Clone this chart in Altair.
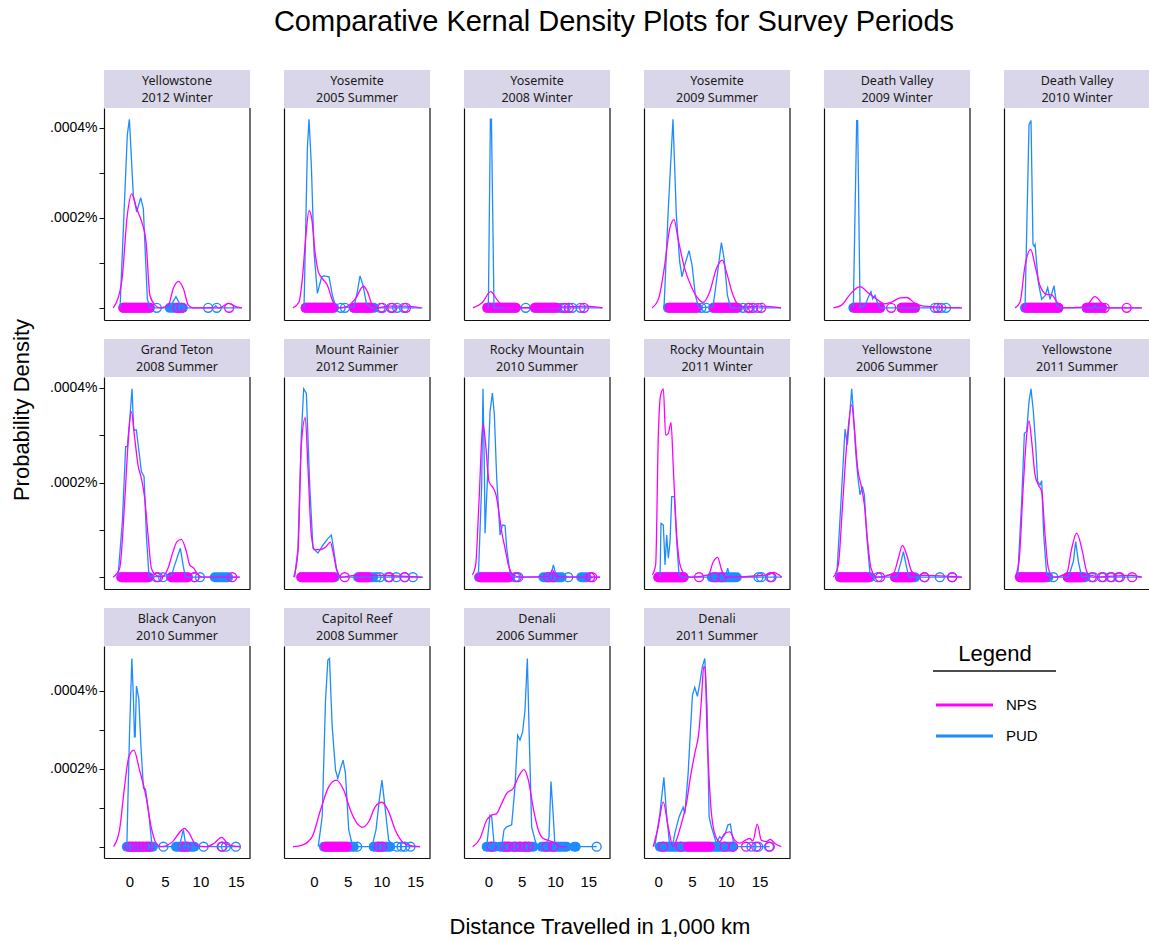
import altair as alt
import pandas as pd

# ---------------- data ----------------
SERIES = ["NPS", "PUD"]
SERIES_COLORS = ["#FF00FF", "#1E8CFF"]
XTICKS = [0, 5, 10, 15]
YTICKS = [0, 1, 2, 3, 4]          # in units of .0001%
YLABELS = {2: ".0002%", 4: ".0004%"}

PARKS = ["Yellowstone", "Yosemite", "Yosemite", "Yosemite", "Death Valley", "Death Valley",
         "Grand Teton", "Mount Rainier", "Rocky Mountain", "Rocky Mountain", "Yellowstone", "Yellowstone",
         "Black Canyon", "Capitol Reef", "Denali", "Denali"]
PERIODS = ["2012 Winter", "2005 Summer", "2008 Winter", "2009 Summer", "2009 Winter", "2010 Winter",
           "2008 Summer", "2012 Summer", "2010 Summer", "2011 Winter", "2006 Summer", "2011 Summer",
           "2010 Summer", "2008 Summer", "2006 Summer", "2011 Summer"]

# density curves (x in 1,000 km, y in .0001%)
NPS_01 = [(-2.44,0),(-1.22,0.58),(-0.4,2.06),(0.24,2.53),(0.97,2.2),(1.7,1.91),(2.33,1.47),(2.9,0.28),(3.65,0.06),(4.4,0),(5.6,0.06),(6.3,0.43),(7.05,0.59),(7.78,0.43),(8.5,0.06),(9.2,0),(13.1,0),(14.35,0.1),(15.57,0.02),(16.3,0)]
PUD_01 = [(-1.46,0),(-0.4,3.84),(-0.1,4.19),(0.48,2.5),(0.97,2.13),(1.56,2.45),(1.94,2.2),(2.52,0.2),(2.9,0),(5.8,0),(6.32,0.15),(6.7,0.25),(7.2,0.1),(7.6,0),(12.2,0),(12.5,0.05),(12.8,0),(16.3,0)]
NPS_02 = [(-2.49,0),(-1.61,0.13),(-1.12,0.65),(-0.64,1.54),(-0.15,2.16),(0.24,1.99),(0.73,1.24),(1.21,0.8),(1.8,0.65),(2.53,0.5),(3.26,0.17),(3.99,0),(5.2,0.02),(6.66,0.21),(7.78,0.48),(8.37,0.36),(9.1,0.06),(9.83,0),(11.5,0.04),(12.5,0.04),(13.96,0.04),(16.15,0)]
PUD_02 = [(-0.88,0),(-0.39,3.54),(-0.15,4.19),(0.19,3.17),(0.58,1.24),(1.07,0.32),(1.7,0.69),(2.04,0.71),(2.77,0.69),(3.26,0.28),(3.74,0.02),(4.47,0),(6.42,0.02),(6.9,0.36),(7.29,0.71),(7.73,0.5),(8.22,0.1),(8.85,0),(16.4,0)]
NPS_03 = [(-2.49,0),(-1.12,0.12),(0.09,0.36),(1.07,0.17),(2.04,0.02),(3.26,0),(10.07,0.02),(14.0,0.04),(16.4,0)]
PUD_03 = [(-0.25,0),(0.05,4.19),(0.2,4.19),(0.58,0),(16.4,0)]
NPS_04 = [(-2.63,0),(-1.66,0.21),(-0.78,0.95),(-0.05,1.76),(0.58,1.96),(1.16,1.54),(2.14,0.87),(3.11,0.47),(4.08,0.21),(4.81,0.12),(5.79,0.36),(6.76,0.87),(7.64,1.06),(8.22,0.8),(9.19,0.28),(10.17,0.04),(11.4,0.02),(12.85,0.04),(16.2,0)]
PUD_04 = [(-0.88,0),(-0.3,2.06),(0.43,4.19),(0.92,2.06),(1.41,1.02),(1.75,0.69),(2.14,0.95),(2.77,1.27),(3.21,0.95),(3.69,0.28),(4.18,0),(6.27,0.02),(6.76,0.58),(7.49,1.45),(7.88,1.1),(8.37,0.28),(8.85,0),(16.2,0)]
NPS_05 = [(-2.44,0),(-1.22,0.06),(0,0.3),(1.46,0.47),(2.67,0.33),(3.89,0.19),(5.1,0.09),(6.08,0.13),(7.3,0.22),(8.27,0.23),(9.48,0.1),(10.7,0.04),(16.3,0)]
PUD_05 = [(0.48,0),(0.97,4.16),(1.11,4.16),(1.46,0),(2.2,0.06),(2.67,0.24),(3.06,0.36),(3.3,0.2),(3.65,0.28),(3.9,0.15),(4.38,0),(16.3,0)]
NPS_06 = [(-2.19,0),(-1.46,0.13),(-0.73,0.94),(0.09,1.3),(0.73,0.94),(1.46,0.49),(2.43,0.3),(3.16,0.29),(3.89,0.13),(4.86,0),(8.0,0.02),(9.48,0.25),(10.5,0.1),(11.4,0),(16.3,0)]
PUD_06 = [(-0.73,0),(-0.15,4.07),(0.14,4.16),(0.43,1.41),(0.6,1.37),(0.73,1.41),(1.21,0.56),(1.7,0.19),(2.19,0.27),(2.57,0.45),(2.92,0.19),(3.5,0.49),(3.89,0.06),(4.38,0),(9.3,0),(9.5,0.05),(9.7,0),(16.3,0)]
NPS_07 = [(-2.49,0),(-1.51,0.19),(-0.78,1.6),(-0.3,2.8),(0.19,3.5),(0.68,2.94),(1.16,2.37),(1.65,2.09),(2.14,1.67),(2.62,0.89),(3.11,0.19),(3.6,0.06),(4.57,0),(5.54,0.19),(6.27,0.54),(6.85,0.75),(7.49,0.8),(8.22,0.54),(8.7,0.26),(9.29,0.19),(9.92,0.05),(10.65,0),(16.0,0)]
PUD_07 = [(-1.76,0),(-1.12,1.18),(-0.64,2.76),(-0.39,2.76),(0.04,3.5),(0.29,3.98),(0.53,3.11),(0.92,3.11),(1.31,2.65),(1.65,2.23),(2.04,2.13),(2.38,0.89),(2.77,0),(6.03,0.03),(6.52,0.26),(7.0,0.47),(7.34,0.61),(7.73,0.26),(8.07,0),(16.0,0)]
NPS_08 = [(-2.39,0),(-1.76,0.54),(-1.27,2.8),(-0.69,3.37),(-0.3,2.3),(0.19,0.89),(0.68,0.58),(1.41,0.58),(2.38,0.65),(2.96,0.74),(3.35,0.54),(3.94,0.12),(4.57,0),(7.2,0.05),(12.0,0.03),(16.3,0)]
PUD_08 = [(-2.24,0),(-1.76,0.61),(-1.27,3.0),(-0.93,3.98),(-0.54,3.89),(-0.05,1.95),(0.43,0.61),(1.16,0.51),(1.89,0.68),(2.62,0.82),(3.11,0.89),(3.35,0.68),(3.84,0.19),(4.33,0),(16.5,0)]
NPS_09 = [(-2.58,0.05),(-2.1,0.26),(-1.61,1.6),(-1.03,3.25),(-0.64,2.8),(-0.15,2.02),(0.48,1.88),(0.87,1.74),(1.21,1.46),(1.7,0.96),(2.19,0.61),(2.67,0.26),(3.4,0.05),(4.38,0),(8.5,0.01),(9.1,0.15),(9.7,0.01),(16.05,0)]
PUD_09 = [(-1.71,0),(-1.22,1.95),(-1.03,3.98),(-0.83,2.3),(-0.73,0.93),(-0.35,2.16),(0,3.5),(0.34,3.89),(0.63,3.43),(0.97,2.09),(1.46,0.89),(1.8,1.1),(2.19,1.09),(2.43,0.61),(2.92,0.08),(3.4,0),(8.8,0),(9.24,0.26),(9.7,0),(16.05,0)]
NPS_10 = [(-2.58,0.05),(-2.1,0.26),(-1.71,3.0),(-1.37,3.85),(-0.98,3.98),(-0.64,3.0),(-0.25,3.04),(0.14,3.27),(0.48,2.3),(0.97,0.89),(1.46,0.26),(2.19,0.05),(2.92,0),(5.6,0.05),(6.32,0.33),(6.95,0.42),(7.44,0.19),(8.03,0),(14.3,0.05),(15.08,0.1),(16.3,0)]
PUD_10 = [(-1.46,0),(-1.32,1.14),(-0.98,1.1),(-0.73,0.26),(-0.49,0.89),(-0.25,0.4),(0,0.75),(0.24,1.7),(0.63,1.7),(0.97,0.75),(1.31,0.05),(1.7,0),(8.1,0),(8.41,0.19),(8.7,0),(16.3,0)]
NPS_11 = [(-2.44,0),(-1.71,0.26),(-1.12,1.46),(-0.49,2.8),(0.24,3.64),(0.63,3.15),(1.11,2.3),(1.6,1.95),(2.09,1.53),(2.57,0.75),(3.06,0.19),(3.89,0),(6.32,0.08),(7.05,0.4),(7.64,0.67),(8.27,0.47),(9.0,0.12),(9.97,0.04),(11.0,0.04),(16.3,0)]
PUD_11 = [(-1.95,0),(-1.32,1.6),(-0.73,3.13),(-0.39,2.8),(0,3.5),(0.24,3.98),(0.48,3.5),(0.82,2.65),(1.11,2.16),(1.46,1.74),(1.8,1.92),(2.09,1.74),(2.43,0.89),(2.92,0.05),(3.4,0),(6.8,0),(7.44,0.33),(7.78,0.54),(8.17,0.26),(8.6,0),(16.3,0)]
NPS_12 = [(-2.19,0),(-1.61,0.33),(-0.98,1.95),(-0.49,3.0),(-0.15,3.3),(0.24,2.87),(0.73,2.16),(1.21,1.95),(1.7,1.81),(2.19,0.89),(2.67,0.19),(3.4,0),(5.35,0.08),(6.08,0.61),(6.81,0.93),(7.54,0.61),(8.27,0.12),(9.0,0),(14.84,0.04),(16.3,0)]
PUD_12 = [(-1.8,0),(-1.22,1.6),(-0.83,3.04),(-0.49,3.08),(-0.15,3.71),(0.14,3.98),(0.48,3.5),(0.82,2.8),(1.11,2.02),(1.46,1.95),(1.7,2.04),(1.99,0.89),(2.43,0.05),(2.92,0),(5.6,0),(6.32,0.33),(6.66,0.75),(7.05,0.33),(7.54,0),(9.2,0.04),(9.6,0),(16.3,0)]
NPS_13 = [(-2.25,0),(-1.41,0.43),(-0.7,1.54),(-0.09,2.31),(0.61,2.48),(1.41,1.97),(2.34,1.28),(3.05,0.51),(3.75,0.09),(4.45,0),(6.09,0.13),(6.94,0.34),(7.74,0.47),(8.44,0.34),(9.38,0.04),(10.8,0),(11.95,0.09),(13.0,0.24),(14.06,0.04),(15.7,0)]
PUD_13 = [(-0.38,0),(0,2.9),(0.33,4.83),(0.56,3.76),(0.7,2.82),(0.8,2.82),(0.98,4.12),(1.31,3.8),(1.64,2.48),(1.97,1.5),(2.25,1.48),(2.72,0.85),(3.19,0),(7.03,0),(7.59,0.44),(7.97,0),(15.7,0)]
NPS_14 = [(-3.1,0),(-1.72,0.04),(-0.25,0.26),(0.98,0.94),(2.21,1.54),(3.3,1.71),(4.43,1.45),(5.41,0.94),(6.39,0.6),(7.23,0.5),(8.12,0.64),(9.1,1.03),(10.08,1.14),(11.07,0.9),(12.05,0.43),(13.28,0.1),(14.5,0.02),(15.74,0)]
PUD_14 = [(0.64,0),(1.23,0.77),(1.72,3.76),(2.07,4.79),(2.31,4.83),(2.71,3.08),(3.2,1.97),(3.54,1.75),(3.94,2.01),(4.33,2.22),(4.67,1.88),(5.16,0.43),(5.75,0),(8.6,0),(9.2,0.43),(9.69,1.2),(10.08,1.71),(10.48,1.11),(11.07,0.17),(11.8,0),(15.7,0)]
NPS_15 = [(-2.35,0),(-1.25,0.21),(-0.25,0.68),(0.5,0.81),(1.25,0.85),(2.0,1.11),(2.75,1.37),(3.75,1.5),(4.5,1.79),(5.35,1.98),(6.0,1.71),(6.75,0.98),(7.5,0.43),(8.25,0.21),(9.25,0.15),(10.0,0.09),(10.75,0),(11.75,0)]
PUD_15 = [(-0.25,0),(0.25,0.81),(0.5,0.77),(0.85,0.09),(1.5,0),(2.0,0),(2.35,0.43),(2.75,0.51),(3.5,0.56),(4.0,1.54),(4.4,2.86),(4.75,2.74),(5.15,2.95),(5.5,3.5),(5.85,4.83),(6.15,2.74),(6.5,0.51),(7.0,0.17),(7.35,0),(8.75,0),(9.1,0.26),(9.4,1.67),(9.75,0.77),(10.0,0),(16.25,0)]
NPS_16 = [(-0.74,0),(0,0.51),(0.74,1.15),(1.48,0.51),(2.21,0),(2.7,0.17),(3.44,0.6),(4.18,1.11),(4.77,1.79),(5.41,2.39),(6.05,2.99),(6.39,3.76),(6.74,4.62),(6.94,4.57),(7.23,2.91),(7.72,1.2),(8.36,0.34),(9.1,0.13),(9.84,0.34),(10.58,0.38),(11.31,0.17),(12.05,0.09),(12.94,0.17),(13.53,0.21),(14.02,0.15),(14.66,0.58),(15.25,0.17),(15.99,0.13),(16.58,0.19),(17.22,0.09),(18.2,0)]
PUD_16 = [(-0.5,0),(0.25,0.85),(0.84,1.78),(1.23,0.85),(1.72,0),(2.1,0),(2.46,0.34),(3.1,0.77),(3.69,1.01),(3.94,0.85),(4.43,1.88),(4.77,2.99),(5.07,3.89),(5.41,4.09),(5.8,3.86),(6.15,4.19),(6.54,4.62),(6.89,4.83),(7.23,3.59),(7.53,0.77),(7.87,0.51),(8.61,0.09),(9.1,0.26),(9.35,0.21),(9.84,0.3),(10.33,0.56),(10.67,0.58),(11.07,0.17),(11.56,0),(16.48,0)]

# rug: runs of overlapping observations (start, end) and single observations
NPS_RUNS = [[(-0.98,2.8)], [(-0.64,3.26),(6.42,8.85)], [(-0.4,3.74),(6.56,9.58)], [(-0.05,3.84),(6.42,9.68)],
            [(0.73,4.38),(7.54,9.48)], [(-0.49,4.13),(8.27,10.5)], [(-1.27,2.62),(6.03,8.46)], [(-1.27,3.35),(7.25,8.46)],
            [(-1.46,2.67)], [(-1.71,1.94)], [(-1.46,2.67),(6.56,8.97)], [(-1.46,2.19),(5.5,7.54)],
            [], [(1.72,4.92)], [], [(4.43,7.62)]]
PUD_RUNS = [[(-0.98,2.9),(5.8,7.7)], [(-0.64,3.5),(6.42,9.3)], [(-0.4,3.74),(6.56,9.8)], [(-0.3,3.98),(6.27,9.9)],
            [(0.48,4.38),(7.54,9.48)], [(-0.73,4.13),(8.27,10.3)], [(-1.27,2.77),(6.03,8.22),(12.35,14.3)], [(-1.27,3.6),(7.0,9.2)],
            [(-1.61,2.92),(7.78,10.46),(13.3,14.1)], [(-1.71,2.0),(6.08,9.73)], [(-1.46,2.92),(6.56,9.48)], [(-1.46,2.67),(5.5,8.03)],
            [(-0.38,3.28),(6.56,9.14)], [(1.48,5.9),(8.85,11.3)], [(-0.25,1.0),(1.75,6.75),(8.0,11.75),(12.9,13.1)], [(0.25,11.07)]]
NPS_OBS = [[6.9,7.5,14.45], [10.55,12.0,14.0], [10.8,11.5,13.7], [11.4,12.1,13.3],
           [6.0,12.8], [10.9,14.1], [4.08,9.4,14.9], [5.06,11.6,13.8],
           [3.89,8.5,9.24,14.6,14.9], [4.23,6.56,7.54,14.8], [4.38,10.85,14.9], [9.0,10.46,11.9,13.1,14.9],
           [0.0,0.4,0.9,1.4,1.9,2.4,2.8,7.5,8.0,13.0], [9.6,10.1], [0.5,2.5,3.0,4.0,4.75,5.5,6.0,8.75,9.75], [0.74,3.34,9.84,11.07,13.0,14.5,16.5]]
PUD_OBS = [[3.9,11.4,12.65], [4.47,5.1,10.3,11.8,12.7,13.7], [5.2,10.3,11.04,12.0,13.2], [4.57,5.3,10.65,11.6,12.8],
           [12.4,13.3,14.0], [], [3.84,4.81,9.4,10.2], [9.68,10.2,11.4,12.6,13.8,15.0],
           [3.65,4.13,11.4], [12.9,13.3,14.6], [4.03,10.85,13.1,14.9], [3.4,9.24,10.7,11.7,12.9],
           [4.78,10.45,13.1,13.6,15.0], [6.4,12.3,13.0,13.5,14.3], [16.25], [13.8,14.8,16.4]]

X_RANGE_TOP = [-3.8, 17.5]
X_RANGE_BOTTOM = [[-3.6, 17.0], [-4.43, 17.2], [-3.65, 18.25], [-2.1, 19.5]]
Y_RANGES = [[-0.27, 4.44], [-0.25, 4.23], [-0.29, 5.15]]

NPS_CURVES = [NPS_01, NPS_02, NPS_03, NPS_04, NPS_05, NPS_06, NPS_07, NPS_08,
              NPS_09, NPS_10, NPS_11, NPS_12, NPS_13, NPS_14, NPS_15, NPS_16]
PUD_CURVES = [PUD_01, PUD_02, PUD_03, PUD_04, PUD_05, PUD_06, PUD_07, PUD_08,
              PUD_09, PUD_10, PUD_11, PUD_12, PUD_13, PUD_14, PUD_15, PUD_16]

TITLE = "Comparative Kernal Density Plots for Survey Periods"
XTITLE = "Distance Travelled in 1,000 km"
YTITLE = "Probability Density"

# ---------------- styling ----------------
W, H = 146, 212
HDR_FILL = "#DAD6E9"
NPS_C, PUD_C = SERIES_COLORS
FONT = "Liberation Sans"
HFONT = "Noto Sans"
BOX = "#111111"


def curve_df(pts):
    return pd.DataFrame({"x": [p[0] for p in pts], "y": [p[1] for p in pts], "i": list(range(len(pts)))})


def panel(idx):
    row, col = divmod(idx, 6)
    xdom = X_RANGE_BOTTOM[col] if row == 2 else X_RANGE_TOP
    xs = alt.Scale(domain=xdom, nice=False, zero=False)
    ys = alt.Scale(domain=Y_RANGES[row], nice=False, zero=False)
    if row == 2:
        xaxis = alt.Axis(values=XTICKS, title=None, grid=False, ticks=False, labelPadding=16,
                         labelFontSize=15, labelFont=FONT, labelColor="black", labelFlush=False,
                         domainColor=BOX, domainWidth=1.2)
    else:
        xaxis = alt.Axis(title=None, grid=False, ticks=False, labels=False, domainColor=BOX, domainWidth=1.2)
    if col == 0:
        yaxis = alt.Axis(values=YTICKS, title=None, grid=False, tickSize=5, tickColor=BOX, tickWidth=1,
                         labelExpr="datum.value == 2 ? '" + YLABELS[2] + "' : datum.value == 4 ? '" + YLABELS[4] + "' : ''",
                         labelFontSize=14, labelFont=FONT, labelColor="black", labelPadding=2,
                         labelFlush=False, domainColor=BOX, domainWidth=1.2)
    else:
        yaxis = alt.Axis(title=None, grid=False, ticks=False, labels=False, domainColor=BOX, domainWidth=1.2)

    def X(f):
        return alt.X(f, scale=xs, axis=xaxis)

    def Y(f):
        return alt.Y(f, scale=ys, axis=yaxis)

    hdr = alt.Chart(pd.DataFrame({"l1": [PARKS[idx]], "l2": [PERIODS[idx]]}))
    layers = [
        hdr.mark_rect(fill=HDR_FILL).encode(x=alt.value(0), x2=alt.value(W), y=alt.value(-38), y2=alt.value(0)),
        hdr.mark_text(font=HFONT, fontSize=12.5, color="#1a1a1a", baseline="middle").encode(
            x=alt.value(W / 2), y=alt.value(-27), text="l1:N"),
        hdr.mark_text(font=HFONT, fontSize=12.5, color="#1a1a1a", baseline="middle").encode(
            x=alt.value(W / 2), y=alt.value(-10), text="l2:N"),
        hdr.mark_rule(color=BOX, strokeWidth=1.2).encode(x=alt.value(W), y=alt.value(0), y2=alt.value(H)),
    ]

    def runs(r, color):
        df = pd.DataFrame({"a": [p[0] for p in r], "b": [p[1] for p in r], "z": [0] * len(r)})
        return alt.Chart(df).mark_rule(color=color, strokeWidth=10, strokeCap="round").encode(
            x=X("a:Q"), x2="b:Q", y=Y("z:Q"))

    def obs(o, color):
        df = pd.DataFrame({"a": o, "z": [0] * len(o)})
        return alt.Chart(df).mark_point(shape="circle", filled=False, size=80, strokeWidth=1.4,
                                        color=color, opacity=1).encode(x=X("a:Q"), y=Y("z:Q"))

    if PUD_RUNS[idx]:
        layers.append(runs(PUD_RUNS[idx], PUD_C))
    if PUD_OBS[idx]:
        layers.append(obs(PUD_OBS[idx], PUD_C))
    if NPS_RUNS[idx]:
        layers.append(runs(NPS_RUNS[idx], NPS_C))
    if NPS_OBS[idx]:
        layers.append(obs(NPS_OBS[idx], NPS_C))

    layers.append(alt.Chart(curve_df(PUD_CURVES[idx])).mark_line(color=PUD_C, strokeWidth=1.3).encode(
        x=X("x:Q"), y=Y("y:Q"), order="i:Q"))
    layers.append(alt.Chart(curve_df(NPS_CURVES[idx])).mark_line(color=NPS_C, strokeWidth=1.3,
                                                                 interpolate="monotone").encode(
        x=X("x:Q"), y=Y("y:Q"), order="i:Q"))

    if idx == 0:
        layers.append(hdr.mark_text(font=FONT, fontSize=29, color="black", baseline="middle", text=TITLE).encode(
            x=alt.value(510), y=alt.value(-86)))
    if idx == 6:
        layers.append(hdr.mark_text(font=FONT, fontSize=22, color="black", baseline="middle", angle=270,
                                    text=YTITLE).encode(x=alt.value(-82), y=alt.value(33)))
    if idx == 14:
        layers.append(hdr.mark_text(font=FONT, fontSize=22, color="black", baseline="middle",
                                    text=XTITLE).encode(x=alt.value(136), y=alt.value(281)))
    return alt.layer(*layers).properties(width=W, height=H)


def legend_panel():
    df = pd.DataFrame({"s": SERIES, "c": SERIES_COLORS})
    ys = alt.Scale(type="point", domain=SERIES, range=[59, 90], padding=0)
    one = alt.Chart(pd.DataFrame({"t": ["Legend"]}))
    return alt.layer(
        one.mark_text(font=FONT, fontSize=22, color="black", baseline="middle").encode(
            x=alt.value(171), y=alt.value(8), text="t:N"),
        one.mark_rule(color=BOX, strokeWidth=1.5).encode(x=alt.value(109), x2=alt.value(232), y=alt.value(25)),
        alt.Chart(df).mark_rule(strokeWidth=3).encode(
            x=alt.value(112), x2=alt.value(169), y=alt.Y("s:N", scale=ys, axis=None),
            color=alt.Color("c:N", scale=None)),
        alt.Chart(df).mark_text(font=FONT, fontSize=15, color="black", align="left", baseline="middle").encode(
            x=alt.value(182), y=alt.Y("s:N", scale=ys, axis=None), text="s:N"),
    ).properties(width=W, height=H)


panels = [panel(i) for i in range(16)] + [legend_panel()]

chart = alt.concat(*panels, columns=6, spacing={"row": 57, "column": 34}, bounds="flush").properties(
    autosize=alt.AutoSizeParams(type="none"),
    padding={"left": 104, "top": 108, "right": 1045, "bottom": 833},
    background="white",
).configure_view(strokeWidth=0)

chart.save("out.html", embed_options={"renderer": "svg", "actions": False})
